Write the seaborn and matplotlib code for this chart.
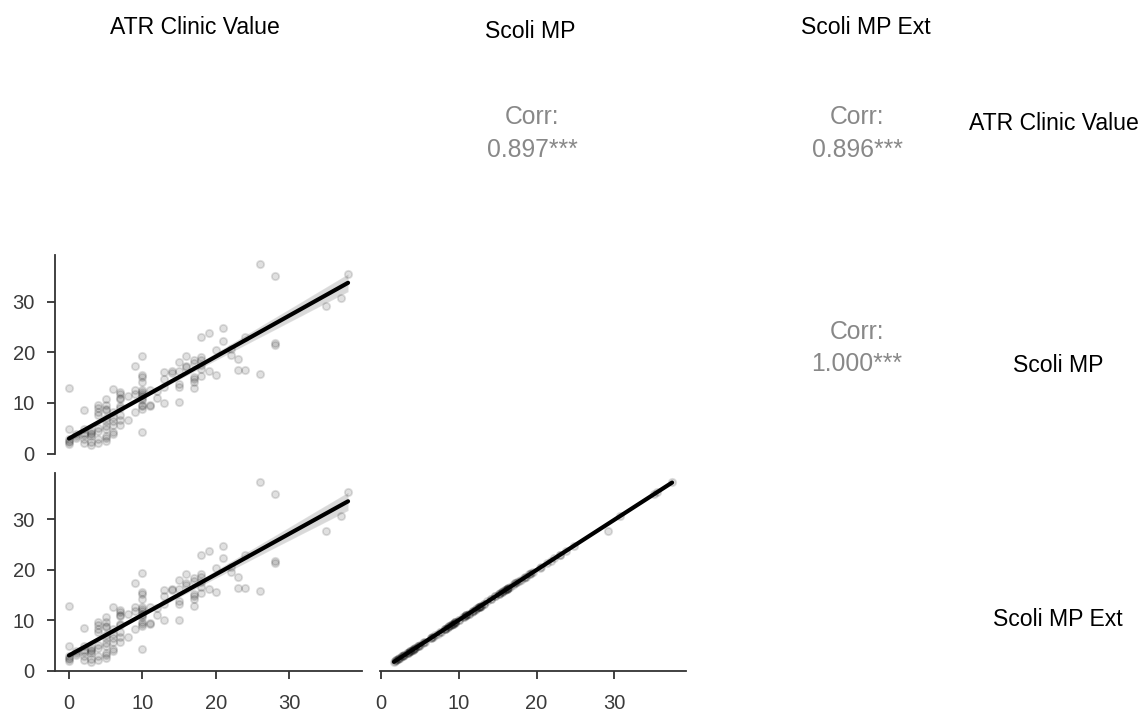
import matplotlib
matplotlib.use("Agg")
import matplotlib.pyplot as plt
import seaborn as sns
import numpy as np
import pandas as pd

# ---- data ----
atr_clinic = ([0]*6 + [1]*3 + [2]*6 + [3]*6 + [4]*8 + [5]*11 + [6]*7 + [7]*9 + [8]*2 +
              [9]*4 + [10]*14 + [11]*3 + [12]*2 + [13]*4 + [14]*2 + [15]*5 + [16]*3 +
              [17]*6 + [18]*6 + [19]*2 + [20]*2 + [21]*2 + [22]*2 + [23]*2 + [24]*2 +
              [26]*2 + [28]*3 + [35] + [37] + [38])
scoli_mp = [12.9, 4.8, 2.9, 2.2, 1.8, 2.5,
            3.9, 3.0, 3.4,
            8.5, 4.9, 4.1, 2.8, 2.0, 3.6,
            4.4, 3.8, 3.5, 4.1, 2.2, 1.7,
            9.6, 9.0, 8.3, 7.6, 5.1, 4.4, 2.8, 2.0,
            10.7, 9.6, 8.8, 8.6, 7.0, 6.4, 5.4, 4.8, 3.5, 3.0, 2.4,
            12.7, 8.3, 7.3, 6.4, 5.7, 4.2, 3.8,
            12.1, 11.7, 11.0, 10.8, 9.3, 9.0, 7.7, 6.7, 5.6,
            11.3, 6.6,
            17.3, 12.6, 11.8, 8.3,
            19.3, 15.6, 15.2, 14.2, 12.6, 12.2, 11.8, 11.3, 11.0, 10.6, 9.6, 9.3, 8.8, 4.3,
            12.6, 9.3, 9.5,
            11.0, 12.4,
            16.0, 14.7, 13.2, 10.0,
            16.2, 15.9,
            18.0, 16.2, 13.7, 13.2, 10.1,
            19.2, 17.3, 17.0,
            18.4, 17.8, 15.2, 14.7, 14.2, 12.9,
            23.0, 19.1, 18.5, 17.5, 16.6, 15.3,
            23.8, 16.2,
            20.4, 15.6,
            24.8, 22.3,
            20.6, 19.5,
            18.6, 16.4,
            23.0, 16.4,
            37.4, 15.7,
            35.1, 21.8, 21.4,
            29.2,
            30.7,
            35.5]
scoli_mp_ext = list(scoli_mp)
scoli_mp_ext[scoli_mp.index(29.2)] = 27.7

var_names = ["ATR Clinic Value", "Scoli MP", "Scoli MP Ext"]
corr_labels = {(0, 1): "0.897***", (0, 2): "0.896***", (1, 2): "1.000***"}
ticks = [0, 10, 20, 30]

df = pd.DataFrame({var_names[0]: atr_clinic,
                   var_names[1]: scoli_mp,
                   var_names[2]: scoli_mp_ext})

# ---- style ----
sns.set_theme(style="ticks")
plt.rcParams["font.family"] = ["Liberation Sans", "DejaVu Sans"]
axis_col = "#333333"

W, H = 1143, 711
fig = plt.figure(figsize=(W / 100, H / 100), dpi=100)

cols = [(55, 362), (380, 686), (704, 1010)]
rows = [(37, 236), (255, 454), (473, 671)]


def rect(c, r):
    l, rr = cols[c]
    t, b = rows[r]
    return [l / W, 1 - b / H, (rr - l) / W, (b - t) / H]


def lims(v):
    v = np.asarray(v, dtype=float)
    lo, hi = v.min(), v.max()
    pad = 0.05 * (hi - lo)
    return lo - pad, hi + pad


for r in range(3):
    for c in range(3):
        if r <= c:
            continue
        ax = fig.add_axes(rect(c, r))
        xv, yv = var_names[c], var_names[r]
        sns.regplot(data=df, x=xv, y=yv, ax=ax, color="#b4b4b4", ci=80,
                    scatter_kws={"color": "black", "alpha": 0.12, "s": 28,
                                 "linewidths": 1.3},
                    line_kws={"color": "black", "lw": 3.0})
        ax.set_xlim(*lims(df[xv]))
        ax.set_ylim(*lims(df[yv]))
        ax.set_xlabel("")
        ax.set_ylabel("")
        ax.set_xticks(ticks)
        ax.set_yticks(ticks)
        for s in ["top", "right"]:
            ax.spines[s].set_visible(False)
        ax.spines["left"].set_visible(c == 0)
        ax.spines["bottom"].set_visible(r == 2)
        for s in ["left", "bottom"]:
            ax.spines[s].set_color(axis_col)
            ax.spines[s].set_linewidth(1.3)
        ax.tick_params(axis="both", colors=axis_col, labelcolor="#3a3a3a",
                       labelsize=14.5, length=5.5, width=1.3)
        ax.tick_params(axis="x", pad=11, bottom=(r == 2), labelbottom=(r == 2))
        ax.tick_params(axis="y", pad=9, left=(c == 0), labelleft=(c == 0))
        ax.set_facecolor("white")

# column titles (top)
col_title_pos = [(195, 27), (530, 32), (866, 27)]
for name, (x, y) in zip(var_names, col_title_pos):
    fig.text(x / W, 1 - y / H, name, ha="center", va="center",
             fontsize=16.6, color="black")

# row titles (right)
row_title_pos = [(1054, 123), (1058, 365), (1058, 620)]
for name, (x, y) in zip(var_names, row_title_pos):
    fig.text(x / W, 1 - y / H, name, ha="center", va="center",
             fontsize=16.6, color="black")

# correlation texts (upper panels)
corr_pos = {(0, 1): (532, 117, 150), (0, 2): (857, 117, 150), (1, 2): (857, 332, 364)}
for key, lab in corr_labels.items():
    x, y1, y2 = corr_pos[key]
    fig.text(x / W, 1 - y1 / H, "Corr:", ha="center", va="center",
             fontsize=17.8, color="#888888")
    fig.text(x / W, 1 - y2 / H, lab, ha="center", va="center",
             fontsize=17.8, color="#888888")

fig.savefig("out.png", dpi=100, facecolor="white")
